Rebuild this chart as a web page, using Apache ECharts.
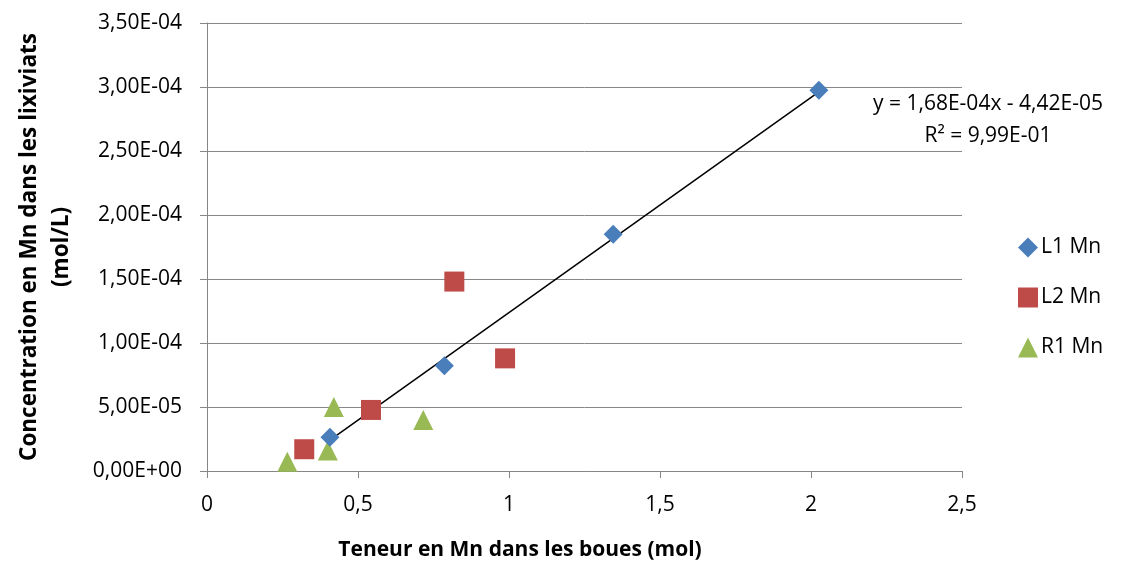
<!DOCTYPE html>
<html><head><meta charset="utf-8">
<script src="https://cdn.jsdelivr.net/npm/echarts@6/dist/echarts.min.js"></script>
<style>html,body{margin:0;padding:0;background:#fff}#c{width:1125px;height:563px}</style>
</head><body><div id="c"></div>
<script>
const seriesNames = ['L1 Mn', 'L2 Mn', 'R1 Mn'];
const l1X = [0.407, 0.786, 1.345, 2.026];
const l1Y = [2.63e-5, 8.23e-5, 1.85e-4, 2.975e-4];
const l2X = [0.322, 0.543, 0.819, 0.987];
const l2Y = [1.7e-5, 4.77e-5, 1.48e-4, 8.8e-5];
const r1X = [0.266, 0.40, 0.42, 0.716];
const r1Y = [7.3e-6, 1.6e-5, 5.0e-5, 3.98e-5];
const trendX = [0.407, 2.026];
const trendY = [2.42e-5, 2.962e-4];
const trendLabel = ['y = 1,68E-04x - 4,42E-05', 'R² = 9,99E-01'];
const xTicks = ['0', '0,5', '1', '1,5', '2', '2,5'];

const colors = ['#4A7EBB', '#BE4B48', '#98B954'];
const FONT = 'Open Sans';
const pairs = (xs, ys) => xs.map((x, i) => [x, ys[i]]);

function fmtY(v) {
  if (v === 0) return '0,00E+00';
  const s = v.toExponential(2);
  const m = s.split('e');
  let e = parseInt(m[1], 10);
  const sign = e < 0 ? '-' : '+';
  e = Math.abs(e);
  return m[0].replace('.', ',') + 'E' + sign + (e < 10 ? '0' + e : e);
}

const chart = echarts.init(document.getElementById('c'), null, {renderer: 'canvas'});
chart.setOption({
  animation: false,
  backgroundColor: '#fff',
  grid: {left: 207, right: 163, top: 23, bottom: 92, containLabel: false, outerBoundsMode: 'none'},
  xAxis: {
    type: 'value', min: 0, max: 2.5, interval: 0.5,
    axisLine: {show: true, onZero: false, lineStyle: {color: '#868686', width: 1}},
    axisTick: {show: true, length: 7, lineStyle: {color: '#868686'}},
    splitLine: {show: false},
    axisLabel: {color: '#000', fontFamily: FONT, fontSize: 21, margin: 24,
      formatter: (v) => xTicks[Math.round(v / 0.5)]},
    name: 'Teneur en Mn dans les boues (mol)',
    nameLocation: 'middle', nameGap: 69,
    nameTextStyle: {color: '#000', fontFamily: FONT, fontSize: 21, fontWeight: 'bold', padding: [0, 129, 0, 0]}
  },
  yAxis: {
    type: 'value', min: 0, max: 3.5e-4, interval: 5e-5,
    axisLine: {show: true, lineStyle: {color: '#868686', width: 1}},
    axisTick: {show: true, length: 7, lineStyle: {color: '#868686'}},
    splitLine: {show: true, lineStyle: {color: '#878787', width: 1}},
    axisLabel: {color: '#000', fontFamily: FONT, fontSize: 21, margin: 25, formatter: fmtY},
    name: 'Concentration en Mn dans les lixiviats\n(mol/L)',
    nameLocation: 'middle', nameGap: 129, nameRotate: 90,
    nameTextStyle: {color: '#000', fontFamily: FONT, fontSize: 22.5, fontWeight: 'bold', lineHeight: 32, align: 'center'}
  },
  legend: {
    orient: 'vertical', left: 1013, top: 232, itemGap: 29,
    itemWidth: 20, itemHeight: 20,
    data: seriesNames.map((n, i) => ({name: n, icon: ['diamond', 'rect', 'triangle'][i]})),
    textStyle: {color: '#000', fontFamily: FONT, fontSize: 21, padding: [0, 0, 0, -2]}
  },
  series: [
    {name: 'trend', type: 'line', data: pairs(trendX, trendY), symbol: 'none', silent: true,
      lineStyle: {color: '#000', width: 1.5}, z: 1},
    {name: seriesNames[0], type: 'scatter', data: pairs(l1X, l1Y), symbol: 'diamond', symbolSize: 19,
      itemStyle: {color: colors[0], opacity: 1}, z: 3},
    {name: seriesNames[1], type: 'scatter', data: pairs(l2X, l2Y), symbol: 'rect', symbolSize: 20,
      itemStyle: {color: colors[1], opacity: 1}, z: 2},
    {name: seriesNames[2], type: 'scatter', data: pairs(r1X, r1Y), symbol: 'triangle', symbolSize: 20,
      itemStyle: {color: colors[2], opacity: 1}, z: 2}
  ],
  graphic: [{
    type: 'text', x: 988, y: 88,
    style: {text: trendLabel.join('\n'), fill: '#000', font: '21px "Open Sans"', align: 'center', verticalAlign: 'top', lineHeight: 32}
  }]
});
</script></body></html>
